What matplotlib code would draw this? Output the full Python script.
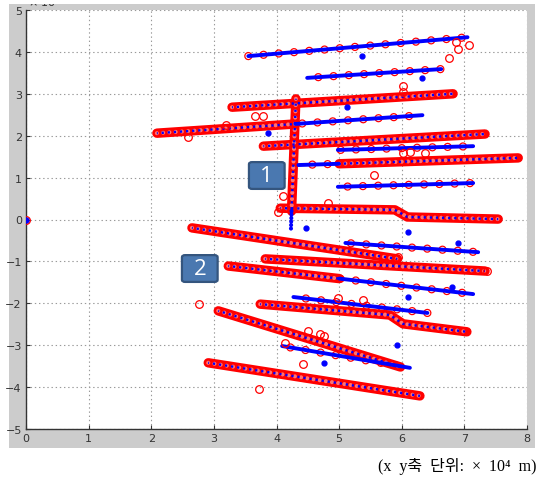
import matplotlib
matplotlib.use('Agg')
import matplotlib.pyplot as plt
from matplotlib.patches import Rectangle, FancyBboxPatch

# tracks as (x, y) waypoints, units of 1e4 m
# blue estimate with scattered red detections
trk_top = [(3.55, 3.90), (7.05, 4.35)]
trk_2 = [(4.49, 3.38), (6.63, 3.59)]
trk_4b = [(4.30, 2.28), (6.33, 2.49)]
trk_6 = [(4.98, 1.66), (7.14, 1.75)]
trk_7a = [(4.35, 1.30), (5.00, 1.33)]
trk_8 = [(4.98, 0.78), (7.14, 0.87)]
trk_a = [(5.10, -0.56), (7.22, -0.78)]
trk_cb = [(5.00, -1.41), (7.14, -1.78)]
trk_d = [(4.27, -1.85), (6.41, -2.23)]
trk_g = [(4.09, -3.02), (6.13, -3.54)]

# tracks covered by dense red detections
trk_3 = [(3.29, 2.68), (6.82, 3.00)]
trk_4a = [(2.09, 2.06), (4.30, 2.28)]
trk_5 = [(3.79, 1.75), (7.33, 2.04)]
trk_7b = [(5.00, 1.33), (7.86, 1.47)]
trk_9 = [(4.06, 0.27), (5.89, 0.23), (6.09, 0.06), (7.54, 0.01)]
trk_v = [(4.31, 2.88), (4.24, 0.20)]
trk_12 = [(2.65, -0.20), (5.93, -0.94)]
trk_b = [(3.82, -0.94), (7.33, -1.23)]
trk_ca = [(3.23, -1.11), (5.00, -1.41)]
trk_e = [(3.74, -2.02), (5.81, -2.28), (6.02, -2.49), (7.04, -2.68)]
trk_f = [(3.07, -2.18), (5.98, -3.52)]
trk_h = [(2.91, -3.42), (6.29, -4.21)]

# blue-only tail below the vertical track
tail_v = [(4.24, 0.20), (4.23, -0.27)]

# isolated red detections
stray_x = [0.0, 6.76, 6.90, 7.08, 6.87, 6.02, 6.02, 3.66, 3.79, 2.59, 3.19, 4.10, 4.03,
           4.82, 5.56, 6.02, 6.13, 6.37, 2.76, 3.72, 4.98, 5.38, 4.42, 4.70, 4.76, 4.50,
           4.14, 5.94, 7.36]
stray_y = [0.0, 3.85, 4.07, 4.17, 4.24, 3.19, 3.05, 2.47, 2.47, 1.97, 2.25, 0.56, 0.18,
           0.39, 1.06, 1.59, 1.61, 1.59, -2.02, -4.05, -1.87, -1.92, -3.45, -2.73, -2.78,
           -2.66, -2.95, -0.90, -1.23]

# isolated blue estimates
blob_x = [0.0, 5.37, 6.33, 5.13, 3.86, 4.47, 6.10, 6.90, 5.93, 4.76, 6.10, 6.80]
blob_y = [0.0, 3.90, 3.38, 2.68, 2.06, -0.20, -0.30, -0.56, -3.00, -3.42, -1.85, -1.60]

xticks = list(range(0, 9))
yticks = list(range(-5, 6))

BLUE = '#0000ff'
RED = '#ff0000'

plt.rcParams['lines.scale_dashes'] = False

fig = plt.figure(figsize=(5.39, 4.81), dpi=100)
fig.patch.set_facecolor('white')
fig.patches.append(Rectangle((9 / 539, 32 / 481), 526 / 539, 444 / 481,
                             transform=fig.transFigure, facecolor='#cccccc',
                             edgecolor='none', zorder=-10))

ax = fig.add_axes([26 / 539, 51 / 481, 501 / 539, 419 / 481])
ax.set_facecolor('white')


def sparse(pts, off=0):
    x, y = zip(*pts)
    ring = (off, (0.01, 11))
    ax.plot(x, y, color=RED, lw=6.0, linestyle=ring, dash_capstyle='round', zorder=3)
    ax.plot(x, y, color='white', lw=4.2, linestyle=ring, dash_capstyle='round', zorder=3)
    ax.plot(x, y, color=BLUE, lw=2.8, solid_capstyle='round', zorder=4)


def dense(pts):
    x, y = zip(*pts)
    ax.plot(x, y, color=RED, lw=6.8, solid_capstyle='round', zorder=3)
    ax.plot(x, y, color='white', lw=3.0, alpha=0.45, linestyle=(0, (0.01, 4.5)),
            dash_capstyle='round', zorder=3)
    ax.plot(x, y, color=BLUE, lw=1.7, linestyle=(1, (1.6, 2.8)), zorder=4)


for i, t in enumerate([trk_top, trk_2, trk_4b, trk_6, trk_7a, trk_8, trk_a, trk_cb, trk_d, trk_g]):
    sparse(t, off=i * 3)

for t in [trk_3, trk_4a, trk_5, trk_7b, trk_9, trk_v, trk_12, trk_b, trk_ca, trk_e, trk_f, trk_h]:
    dense(t)

tx, ty = zip(*tail_v)
ax.plot(tx, ty, color=BLUE, lw=3, linestyle=(0, (0.01, 2.5)), dash_capstyle='round', zorder=4)

ax.plot(stray_x, stray_y, 'o', ms=5.5, mfc='none', mec=RED, mew=0.9, zorder=5)
ax.plot(blob_x, blob_y, 'o', ms=3.5, color=BLUE, zorder=5)

# numbered labels
for lbl, (bx, by) in [('1', (3.56, 0.73)), ('2', (2.49, -1.49))]:
    box = FancyBboxPatch((bx, by), 0.57, 0.64, boxstyle='round,pad=0,rounding_size=0.05',
                         facecolor='#4a78b0', edgecolor='#34557e', lw=1.6, zorder=6)
    ax.add_patch(box)
    ax.text(bx + 0.285, by + 0.31, lbl, color='white', fontsize=16, ha='center',
            va='center', family='Open Sans', zorder=7)

ax.set_xlim(0, 8)
ax.set_ylim(-5, 5)
ax.set_xticks(xticks)
ax.set_yticks(yticks)
ax.grid(True, color='#9a9a9a', linestyle=(0, (1, 2)), lw=0.8)
ax.set_axisbelow(True)
for s in ['top', 'right']:
    ax.spines[s].set_visible(False)
for s in ['left', 'bottom']:
    ax.spines[s].set_color('#333333')
    ax.spines[s].set_linewidth(1.0)
ax.tick_params(direction='in', length=3, width=0.8, colors='#333333', labelsize=8, pad=3)

fig.text(28 / 539, 474 / 481, '× 10$^4$', fontsize=8, color='#333333', va='baseline')
fig.patches.append(Rectangle((0, 476 / 481), 1, 5 / 481, transform=fig.transFigure,
                             facecolor='white', edgecolor='none', zorder=10))

fig.text(537 / 539, 10 / 481, '(x  y축  단위:  ×  10⁴  m)', fontsize=11.5, ha='right',
         va='baseline', family=['Liberation Serif', 'Noto Sans CJK KR'])

fig.savefig('out.png', dpi=100)
